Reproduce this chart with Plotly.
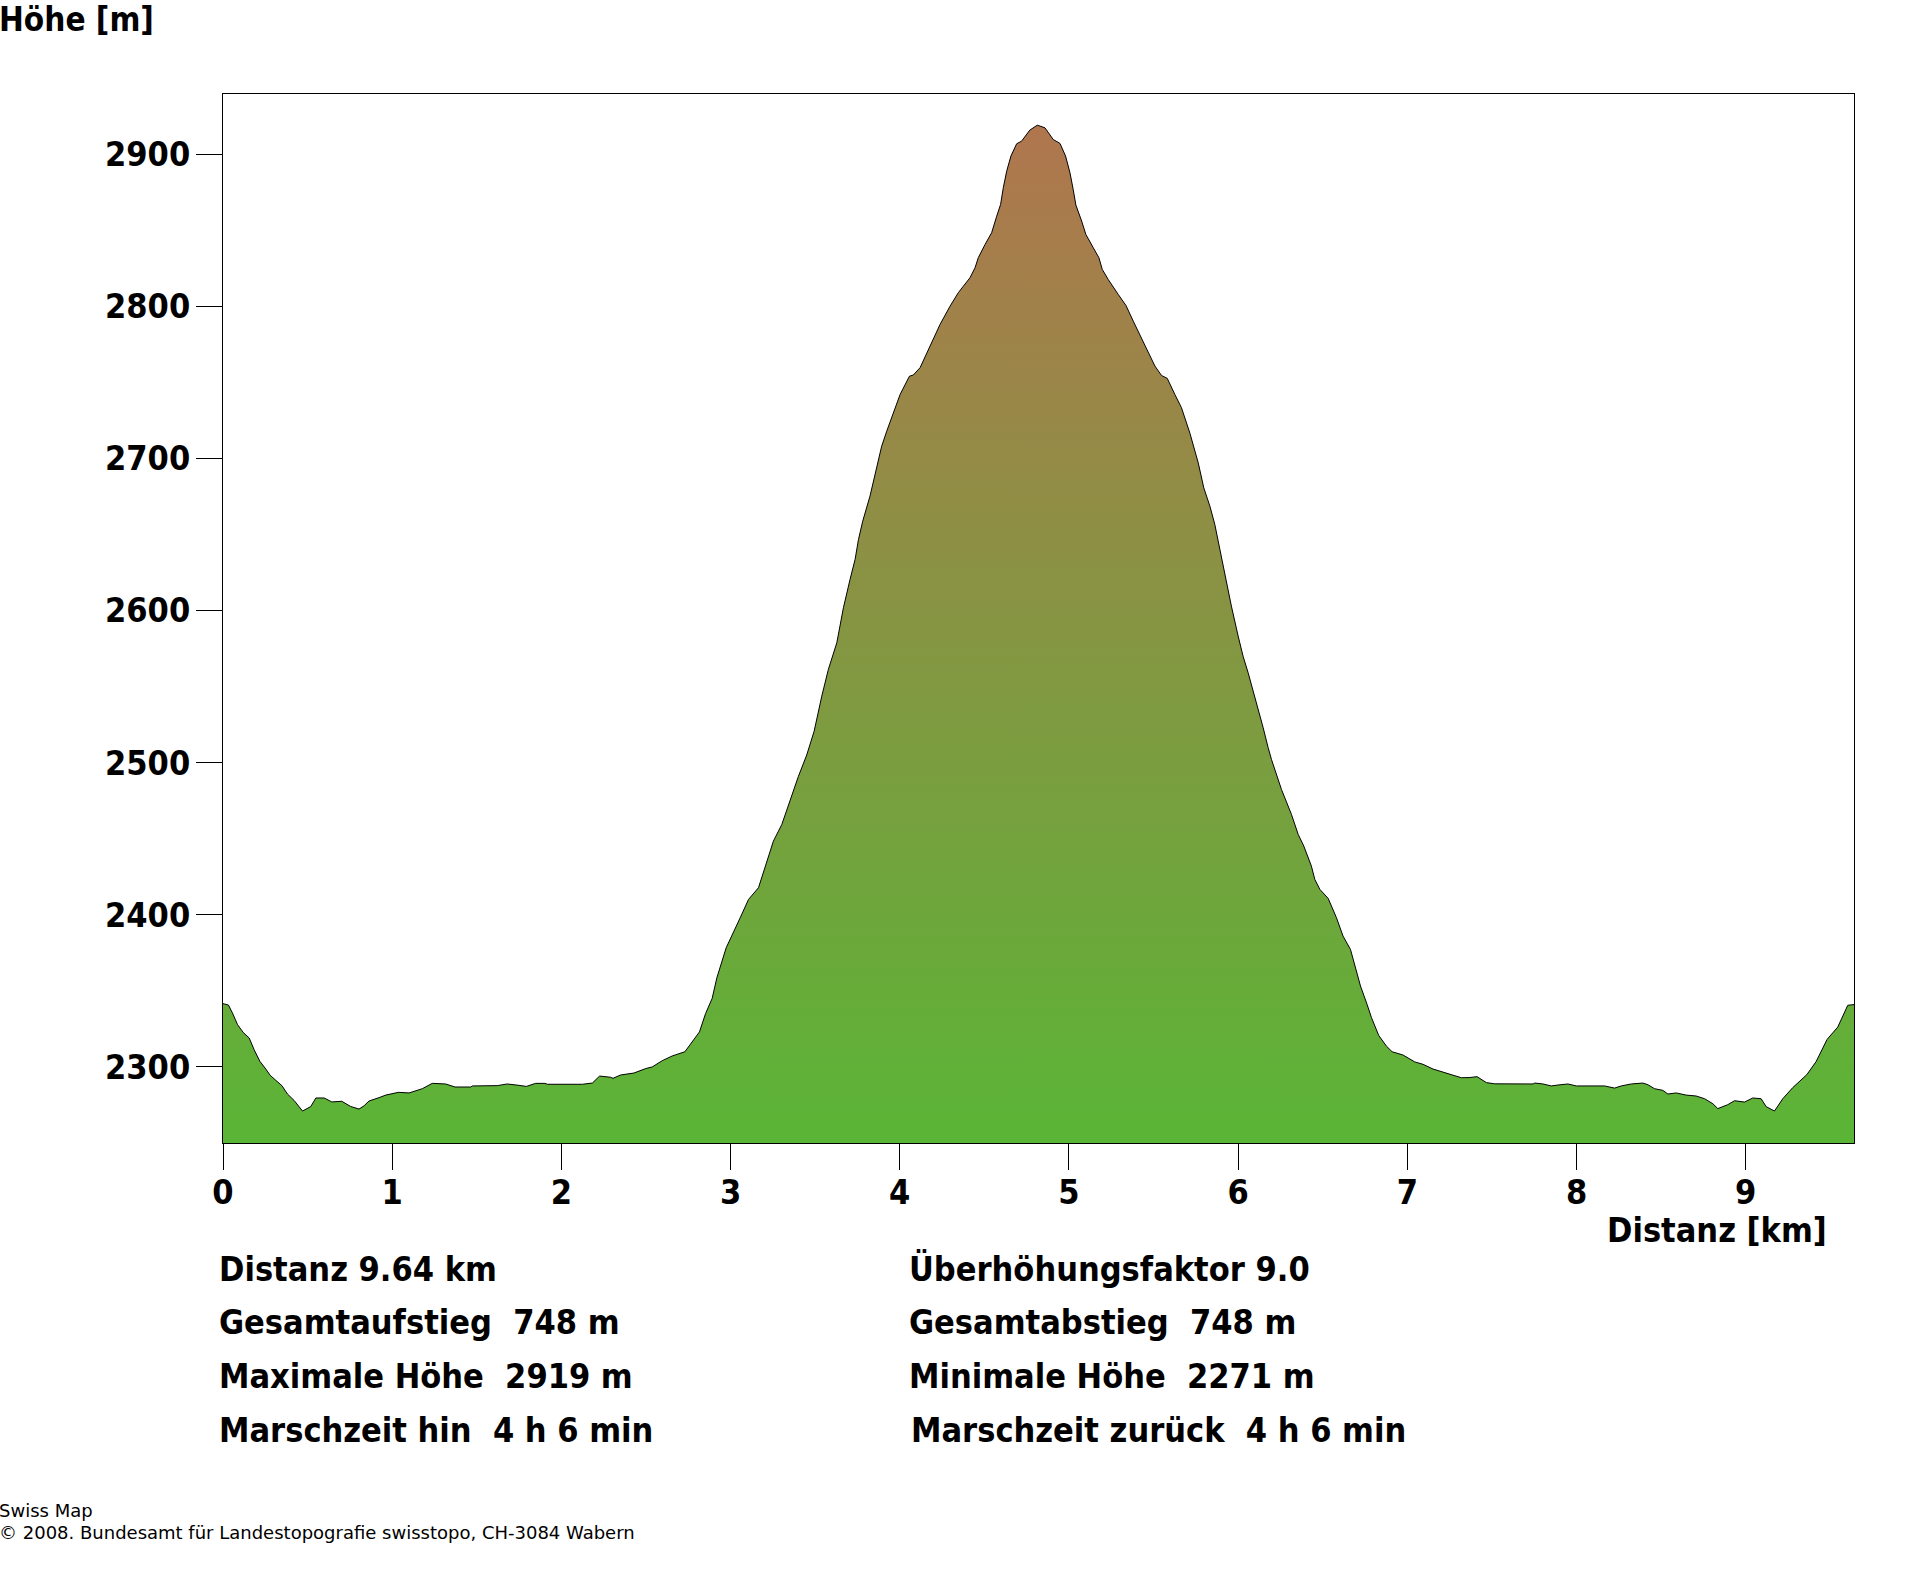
import plotly.graph_objects as go

# profile
dist_km = [0, 0.032, 0.056, 0.086, 0.119, 0.155, 0.184, 0.218, 0.253, 0.279, 0.312, 0.348, 0.381, 0.42, 0.47,
           0.519, 0.549, 0.598, 0.643, 0.702, 0.755, 0.804, 0.834, 0.863, 0.922, 0.962, 1.037, 1.10, 1.178, 1.237,
           1.316, 1.371, 1.464, 1.474, 1.621, 1.68, 1.749, 1.793, 1.848, 1.903, 1.917, 2.124, 2.183, 2.226, 2.291,
           2.305, 2.35, 2.429, 2.498, 2.537, 2.596, 2.655, 2.73, 2.783, 2.816, 2.852, 2.891, 2.919, 2.974,
           3.057, 3.106, 3.165, 3.214, 3.253, 3.303, 3.352, 3.401, 3.45, 3.494, 3.539, 3.578, 3.628, 3.667, 3.706,
           3.736, 3.756, 3.781, 3.824, 3.868, 3.893, 3.923, 3.962, 4.002, 4.057, 4.08, 4.12, 4.169, 4.208, 4.238,
           4.297, 4.346, 4.376, 4.415, 4.445, 4.464, 4.504, 4.543, 4.573, 4.596, 4.612, 4.632, 4.657, 4.691, 4.72,
           4.769, 4.813, 4.858, 4.907, 4.947, 4.98, 5.006, 5.025, 5.041, 5.075, 5.1, 5.144, 5.177, 5.197, 5.232,
           5.291, 5.337, 5.38, 5.419, 5.459, 5.508, 5.547, 5.581, 5.626, 5.665, 5.715, 5.764, 5.797, 5.833, 5.862,
           5.892, 5.921, 5.96, 6.0, 6.029, 6.059, 6.104, 6.148, 6.177, 6.197, 6.256, 6.315, 6.355, 6.388, 6.433,
           6.453, 6.483, 6.532, 6.581, 6.62, 6.664, 6.699, 6.723, 6.762, 6.788, 6.831, 6.876, 6.91, 6.975, 7.044,
           7.093, 7.152, 7.25, 7.319, 7.365, 7.412, 7.467, 7.516, 7.743, 7.753, 7.802, 7.851, 7.89, 7.949, 7.999,
           8.166, 8.225, 8.264, 8.323, 8.392, 8.422, 8.461, 8.51, 8.54, 8.589, 8.648, 8.707, 8.757, 8.806, 8.835,
           8.894, 8.934, 8.993, 9.042, 9.091, 9.121, 9.17, 9.219, 9.278, 9.361, 9.416, 9.481, 9.544, 9.603, 9.64]
height_m = [2341.6, 2340.7, 2335.4, 2327.8, 2322.7, 2319, 2311.3, 2303.7, 2298.6, 2294.5, 2291.2, 2287.7, 2282.2, 2278, 2271,
            2274, 2279.6, 2279.6, 2277, 2277.4, 2274, 2272.3, 2274.5, 2277.6, 2279.8, 2281.5, 2283.3, 2282.9, 2285.7, 2289.2,
            2288.8, 2286.8, 2286.8, 2287.5, 2287.7, 2288.8, 2287.9, 2287.2, 2289.2, 2289.2, 2288.6, 2288.6, 2289.4, 2294, 2293.2,
            2292.5, 2294.7, 2296, 2298.9, 2300, 2304.1, 2307.2, 2310, 2318, 2323, 2335, 2345, 2358.6, 2378.3,
            2398.1, 2410.1, 2417.8, 2435.3, 2448.4, 2459.4, 2475.8, 2491, 2505, 2520.7, 2543.7, 2561.3, 2578.8, 2601.8, 2620.4,
            2633.6, 2646.7, 2658.7, 2675.2, 2696, 2708, 2717.9, 2729.5, 2742, 2754, 2754.8, 2759.6, 2771.6, 2780.4, 2788,
            2800, 2808.9, 2813.2, 2818.7, 2825.3, 2831.9, 2840.6, 2848.3, 2859.2, 2866.9, 2877.9, 2888.8, 2898.7, 2906.8, 2908.5,
            2915.8, 2919, 2917.3, 2909.6, 2907, 2898.7, 2887.7, 2876.8, 2866.5, 2856, 2847.2, 2838.4, 2831.9, 2824.2, 2817.6,
            2807.8, 2800.5, 2790.2, 2781.5, 2771.6, 2760.7, 2754.5, 2752.6, 2742, 2733.3, 2716.5, 2697.1, 2680.6, 2668.6, 2656.6,
            2640.1, 2622.6, 2602.9, 2583.2, 2570, 2559.1, 2541.5, 2522.9, 2510, 2502.1, 2482.4, 2466, 2452.8, 2445.2, 2432,
            2423.3, 2416.7, 2410.8, 2398.1, 2386, 2377.2, 2361.9, 2353.2, 2341.1, 2332.4, 2320.7, 2313.7, 2310, 2307.8, 2303.3,
            2301.7, 2298.6, 2295.2, 2292.9, 2293, 2293.6, 2289.7, 2288.9, 2288.8, 2289.4, 2288.8, 2287.5, 2288.1, 2288.8, 2287.5,
            2287.5, 2286.1, 2287.5, 2288.8, 2289.4, 2288.3, 2285.7, 2284.6, 2282.2, 2282.9, 2281.5, 2280.9, 2279.1, 2275.8, 2272.6,
            2275.2, 2277.8, 2276.9, 2279.6, 2279.1, 2273.9, 2271, 2279.1, 2286.4, 2294.9, 2303.5, 2318.1, 2326.2, 2340.5, 2341]

x_ticks = [0, 1, 2, 3, 4, 5, 6, 7, 8, 9]
y_ticks = [2300, 2400, 2500, 2600, 2700, 2800, 2900]

stats_left = ["Distanz 9.64 km", "Gesamtaufstieg\u00a0 748 m", "Maximale Höhe\u00a0 2919 m", "Marschzeit hin\u00a0 4 h 6 min"]
stats_right = ["Überhöhungsfaktor 9.0", "Gesamtabstieg\u00a0 748 m", "Minimale Höhe\u00a0 2271 m", "Marschzeit zurück\u00a0 4 h 6 min"]
stats_baseline = [1282, 1336, 1390, 1444]
credit_lines = ["Swiss Map", "© 2008. Bundesamt für Landestopografie swisstopo, CH-3084 Wabern"]

W, H = 1920, 1572
ML, MR, MT, MB = 222.5, 65.5, 93.5, 428.5
BOLD = dict(family="DejaVu Sans Condensed, DejaVu Sans", size=34, color="black", weight="bold")
TITLE = dict(BOLD, size=33)
THIN = dict(family="DejaVu Sans", size=18, color="black")

fig = go.Figure(go.Scatter(
    x=dist_km, y=height_m, mode="lines",
    line=dict(color="black", width=1),
    fill="tozeroy",
    fillgradient=dict(type="vertical", start=2250, stop=2919,
                      colorscale=[[0, "#5ab536"], [1, "#b0764e"]]),
    hoverinfo="skip", showlegend=False,
))


def label(px, baseline, text, font):
    # position in page pixels, baseline measured on the picture
    fig.add_annotation(
        xref="paper", yref="paper", xanchor="left", yanchor="bottom", showarrow=False,
        x=(px - 2.5 - ML) / (W - ML - MR), y=1 - (baseline - MT) / (H - MT - MB),
        yshift=-0.24 * font["size"], borderpad=0, text=text, font=font, align="left",
    )


label(0, 32, "Höhe [m]", TITLE)
label(1609, 1243, "Distanz [km]", BOLD)
for text, base in zip(stats_left, stats_baseline):
    label(219.5, base, text, BOLD)
for text, base in zip(stats_right, stats_baseline):
    label(912 if text.startswith("Marschzeit") else 910, base, text, BOLD)
label(0, 1519, credit_lines[0], THIN)
label(0, 1541, credit_lines[1], THIN)

axis_style = dict(showgrid=False, zeroline=False, showline=True, linecolor="black", linewidth=1, mirror=True,
                  ticks="outside", ticklen=26, tickwidth=1, tickcolor="black", tickfont=BOLD)
fig.update_xaxes(range=[0, 9.64], tickvals=x_ticks, ticklabelstandoff=-7, **axis_style)
fig.update_yaxes(range=[2250, 2939.5], tickvals=y_ticks, ticklabelstandoff=-1, **axis_style)
fig.update_layout(width=W, height=H, paper_bgcolor="white", plot_bgcolor="white",
                  margin=dict(l=ML, r=MR, t=MT, b=MB, autoexpand=False))

fig.write_html("out.html", config=dict(displayModeBar=False), post_script="document.body.style.margin='0';")
